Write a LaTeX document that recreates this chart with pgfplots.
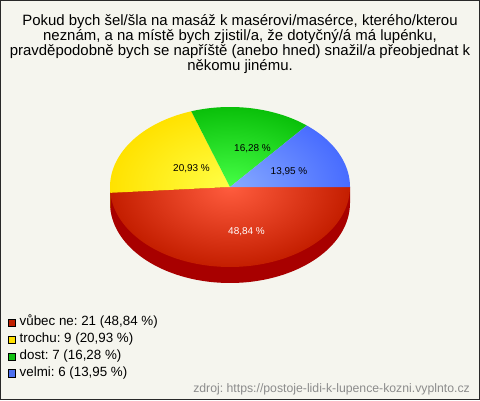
\documentclass[border=0pt]{standalone}
\usepackage{fontspec}
\setmainfont{Liberation Sans}
\usepackage{pgfplots}
\pgfplotsset{compat=1.18}

\definecolor{bg}{RGB}{245,245,238}
\definecolor{frame}{RGB}{40,40,40}
\definecolor{redA}{RGB}{196,30,0}
\definecolor{redL}{RGB}{255,92,62}
\definecolor{redS}{RGB}{168,0,0}
\definecolor{yelA}{RGB}{255,226,0}
\definecolor{yelL}{RGB}{255,255,70}
\definecolor{yelS}{RGB}{200,176,0}
\definecolor{grnA}{RGB}{10,192,10}
\definecolor{grnL}{RGB}{70,255,70}
\definecolor{bluA}{RGB}{72,108,255}
\definecolor{bluL}{RGB}{135,170,255}
\definecolor{legR}{RGB}{192,32,0}
\definecolor{legY}{RGB}{255,224,0}
\definecolor{legG}{RGB}{16,192,16}
\definecolor{legB}{RGB}{77,112,240}
\definecolor{src}{RGB}{140,140,140}

\begin{document}
\frenchspacing
\begin{tikzpicture}
% counts: vubec ne, trochu, dost, velmi
\def\nA{21}\def\nB{9}\def\nC{7}\def\nD{6}
\pgfmathsetmacro\tot{\nA+\nB+\nC+\nD}
\pgfmathsetmacro\aD{360*\nD/\tot}
\pgfmathsetmacro\aC{\aD+360*\nC/\tot}
\pgfmathsetmacro\aB{\aC+360*\nB/\tot}
\begin{axis}[
  scale only axis, width=480bp, height=400bp,
  xmin=0, xmax=480, ymin=0, ymax=400,
  hide axis, clip=false,
  legend image code/.code={\draw[#1,draw=black,line width=0.6bp] (1bp,-3.6bp) rectangle (8.3bp,3.6bp); \path (10.8bp,0bp);},
  legend style={at={(axis cs:8,86)}, anchor=north west, draw=none, fill=none,
    font=\fontsize{13.4}{15}\selectfont, inner sep=0pt, row sep=0pt,
    nodes={inner sep=1.2bp, text height=10.4bp, text depth=4.1bp}},
  legend cell align=left,
  samples=80, variable=\t,
]
\fill[bg] (axis cs:0,0) rectangle (axis cs:480,400);
\draw[frame, line width=1bp] (axis cs:0.5,0.5) rectangle (axis cs:479.5,399.5);

% side of the pie
\addplot[fill=redS, draw=none, domain=180:360, forget plot]
  ({230+120*cos(t)},{197+80*sin(t)}) -- (axis cs:350,213) -- (axis cs:110,213) -- cycle;
\addplot[fill=yelS, draw=none, domain=180:\aB, forget plot]
  ({230+120*cos(t)},{197+80*sin(t)}) -- (axis cs:{230+120*cos(\aB)},{213+80*sin(\aB)}) -- (axis cs:110,213) -- cycle;

% top face
\addplot[inner color=redL, outer color=redA, draw=none, domain=\aB:360, forget plot]
  ({230+120*cos(t)},{213+80*sin(t)}) -- (axis cs:230,213) -- cycle (axis cs:110,133) (axis cs:350,293);
\addplot[inner color=yelL, outer color=yelA, draw=none, domain=\aC:\aB, forget plot]
  ({230+120*cos(t)},{213+80*sin(t)}) -- (axis cs:230,213) -- cycle (axis cs:110,133) (axis cs:350,293);
\addplot[inner color=grnL, outer color=grnA, draw=none, domain=\aD:\aC, forget plot]
  ({230+120*cos(t)},{213+80*sin(t)}) -- (axis cs:230,213) -- cycle (axis cs:110,133) (axis cs:350,293);
\addplot[inner color=bluL, outer color=bluA, draw=none, domain=0:\aD, forget plot]
  ({230+120*cos(t)},{213+80*sin(t)}) -- (axis cs:230,213) -- cycle (axis cs:110,133) (axis cs:350,293);

% slice labels
\node[font=\fontsize{10}{12}\selectfont, text=white] at (axis cs:246.5,168.5) {48,84 \%};
\node[font=\fontsize{10}{12}\selectfont] at (axis cs:191.5,231) {20,93 \%};
\node[font=\fontsize{10}{12}\selectfont] at (axis cs:252.5,251.5) {16,28 \%};
\node[font=\fontsize{10}{12}\selectfont] at (axis cs:289,228.5) {13,95 \%};

% title
\node[anchor=base, font=\fontsize{15}{17}\selectfont] at (axis cs:240,374.2) {Pokud bych šel/šla na masáž k masérovi/masérce, kterého/kterou};
\node[anchor=base, font=\fontsize{15}{17}\selectfont] at (axis cs:240,359.2) {neznám, a na místě bych zjistil/a, že dotyčný/á má lupénku,};
\node[anchor=base, font=\fontsize{15}{17}\selectfont] at (axis cs:240,344.2) {pravděpodobně bych se napříště (anebo hned) snažil/a přeobjednat k};
\node[anchor=base, font=\fontsize{15}{17}\selectfont] at (axis cs:240,329.2) {někomu jinému.};

% source
\node[anchor=base east, text=src, font=\fontsize{12.3}{14}\selectfont, inner sep=0pt] at (axis cs:470,8) {zdroj: https://postoje-lidi-k-lupence-kozni.vyplnto.cz};

\addlegendimage{fill=legR}
\addlegendentry{vůbec ne: 21 (48,84 \%)}
\addlegendimage{fill=legY}
\addlegendentry{trochu: 9 (20,93 \%)}
\addlegendimage{fill=legG}
\addlegendentry{dost: 7 (16,28 \%)}
\addlegendimage{fill=legB}
\addlegendentry{velmi: 6 (13,95 \%)}
\end{axis}
\end{tikzpicture}
\end{document}
